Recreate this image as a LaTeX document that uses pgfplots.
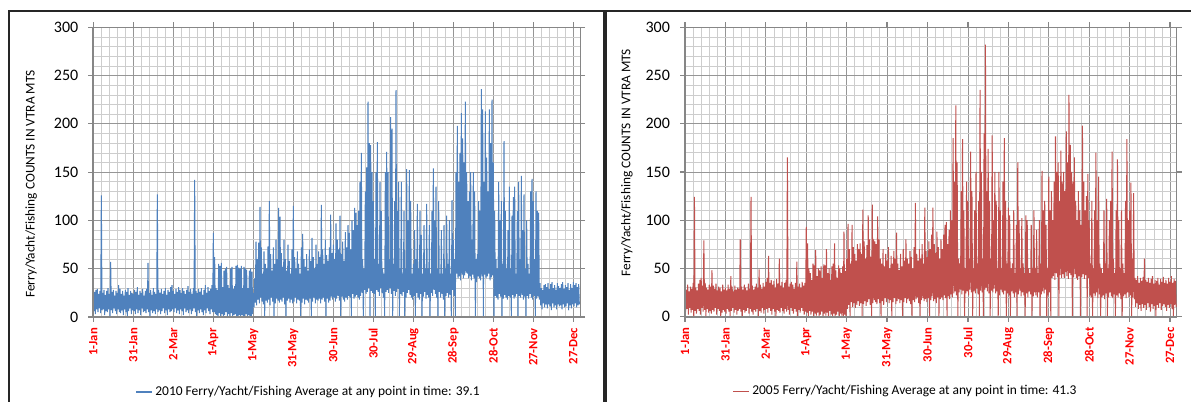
\documentclass[border=0pt]{standalone}
\usepackage{fontspec}
\setmainfont{Carlito}
\usepackage{pgfplots}
\pgfplotsset{compat=1.18}
\usepackage{pgfplotstable}

\definecolor{xlblue}{RGB}{79,129,189}
\definecolor{xlred}{RGB}{192,80,77}
\definecolor{majgrid}{RGB}{150,150,150}
\definecolor{mingrid}{RGB}{205,205,205}
\definecolor{axgray}{RGB}{134,134,134}

% daily max / min pairs (hi, lo, hi, lo, ...), one pair per day from 1-Jan
\pgfplotstableread[row sep=\\]{v\\
22\\6\\26\\3\\28\\8\\29\\5\\24\\9\\27\\4\\126\\7\\25\\8\\28\\2\\23\\6\\
27\\5\\30\\8\\24\\0\\57\\7\\26\\4\\28\\9\\22\\6\\27\\3\\25\\8\\33\\5\\
29\\4\\24\\7\\27\\2\\22\\8\\28\\5\\26\\0\\30\\6\\23\\9\\27\\3\\25\\7\\
24\\6\\28\\3\\26\\8\\31\\4\\23\\7\\27\\2\\25\\9\\29\\5\\22\\6\\27\\4\\
29\\8\\56\\5\\25\\0\\28\\7\\23\\4\\30\\6\\26\\3\\24\\8\\127\\5\\28\\7\\
25\\3\\29\\6\\24\\9\\27\\4\\30\\7\\23\\2\\28\\8\\26\\5\\31\\6\\33\\8\\
27\\5\\24\\9\\29\\4\\26\\7\\31\\3\\28\\8\\25\\6\\30\\2\\27\\9\\24\\5\\
28\\7\\32\\4\\26\\8\\29\\3\\24\\6\\30\\9\\142\\5\\27\\0\\25\\7\\29\\4\\
26\\8\\30\\5\\23\\2\\28\\7\\33\\4\\25\\9\\31\\6\\27\\3\\29\\8\\33\\5\\
87\\5\\62\\3\\30\\2\\28\\0\\55\\4\\53\\1\\56\\3\\31\\0\\48\\2\\50\\5\\
52\\0\\33\\3\\30\\1\\50\\4\\52\\0\\29\\2\\32\\3\\53\\0\\54\\1\\51\\2\\
50\\0\\53\\2\\30\\1\\52\\0\\50\\3\\49\\0\\30\\2\\48\\1\\50\\0\\47\\3\\
25\\10\\40\\15\\78\\12\\60\\18\\77\\14\\114\\20\\72\\16\\45\\13\\68\\0\\55\\17\\
50\\15\\73\\18\\120\\12\\65\\20\\48\\16\\72\\0\\55\\14\\80\\19\\60\\17\\113\\15\\
104\\18\\66\\16\\52\\20\\80\\13\\60\\0\\48\\17\\75\\19\\58\\15\\45\\18\\70\\14\\
115\\16\\62\\20\\50\\14\\68\\18\\55\\17\\45\\0\\72\\15\\86\\19\\60\\13\\52\\18\\
65\\17\\48\\15\\70\\19\\58\\0\\82\\16\\62\\20\\50\\14\\75\\18\\55\\17\\68\\19\\
62\\14\\116\\18\\70\\20\\55\\16\\80\\0\\64\\19\\58\\15\\72\\17\\106\\21\\66\\18\\
75\\20\\60\\16\\97\\19\\80\\22\\70\\17\\105\\0\\65\\21\\78\\18\\58\\16\\88\\20\\
72\\18\\95\\22\\87\\20\\70\\0\\100\\24\\90\\19\\113\\21\\108\\23\\95\\20\\110\\18\\
140\\22\\170\\25\\60\\0\\50\\28\\130\\24\\155\\26\\223\\30\\180\\0\\178\\27\\150\\25\\
120\\24\\60\\0\\150\\28\\181\\26\\55\\22\\140\\30\\110\\25\\50\\20\\45\\0\\150\\26\\
171\\28\\150\\25\\60\\30\\207\\24\\195\\0\\55\\27\\120\\22\\235\\26\\110\\29\\140\\0\\
50\\24\\140\\22\\45\\26\\110\\0\\50\\20\\153\\25\\100\\28\\152\\23\\120\\20\\45\\18\\
55\\22\\90\\0\\60\\25\\117\\20\\50\\18\\110\\24\\85\\0\\45\\21\\95\\26\\50\\19\\
117\\23\\50\\20\\95\\0\\45\\25\\110\\22\\154\\28\\100\\24\\135\\20\\50\\0\\120\\26\\
45\\20\\90\\24\\45\\18\\95\\0\\50\\22\\105\\25\\55\\20\\100\\23\\45\\0\\121\\28\\
80\\22\\60\\0\\150\\45\\198\\40\\140\\42\\170\\38\\211\\44\\185\\40\\160\\43\\223\\46\\
150\\45\\120\\40\\130\\42\\150\\38\\80\\44\\150\\40\\130\\0\\60\\36\\65\\42\\120\\40\\
110\\38\\236\\42\\215\\0\\140\\44\\213\\40\\165\\42\\130\\45\\215\\38\\180\\41\\225\\43\\
160\\0\\110\\22\\60\\20\\50\\18\\140\\24\\100\\21\\120\\0\\55\\19\\182\\23\\110\\20\\
50\\18\\90\\22\\135\\20\\50\\0\\105\\23\\124\\19\\135\\21\\45\\24\\110\\0\\140\\22\\
60\\20\\146\\23\\90\\18\\127\\21\\50\\0\\100\\22\\55\\19\\45\\24\\130\\20\\143\\18\\
120\\22\\60\\0\\130\\19\\110\\21\\108\\18\\35\\12\\30\\8\\28\\14\\33\\10\\34\\13\\
31\\9\\35\\13\\29\\11\\34\\7\\36\\14\\30\\10\\33\\12\\28\\8\\35\\13\\32\\11\\
30\\12\\34\\8\\36\\13\\29\\10\\33\\11\\31\\14\\35\\7\\28\\12\\34\\9\\30\\13\\
36\\11\\33\\14\\35\\10\\31\\12\\34\\13\\
}\tenyear

\pgfplotstableread[row sep=\\]{v\\
30\\5\\28\\8\\33\\2\\26\\9\\31\\4\\29\\7\\35\\0\\124\\6\\30\\3\\27\\8\\
34\\6\\38\\2\\40\\9\\32\\5\\79\\7\\35\\0\\30\\8\\28\\4\\33\\6\\31\\3\\
48\\7\\32\\5\\29\\9\\34\\2\\27\\8\\31\\6\\30\\0\\26\\4\\33\\7\\28\\5\\
30\\3\\27\\8\\33\\5\\29\\0\\42\\6\\31\\9\\26\\4\\32\\7\\28\\2\\30\\6\\
29\\8\\80\\5\\31\\0\\28\\7\\33\\4\\30\\6\\27\\9\\34\\3\\29\\8\\124\\5\\
32\\2\\28\\7\\31\\5\\34\\8\\30\\0\\49\\6\\33\\4\\29\\9\\35\\3\\31\\7\\
36\\8\\40\\4\\63\\9\\35\\6\\38\\2\\33\\8\\37\\5\\30\\0\\39\\7\\34\\6\\
60\\4\\32\\9\\36\\6\\30\\3\\35\\8\\38\\5\\165\\7\\31\\2\\34\\9\\36\\6\\
33\\3\\29\\8\\35\\5\\57\\0\\31\\7\\34\\4\\30\\9\\36\\6\\32\\2\\35\\5\\
93\\4\\76\\0\\50\\6\\45\\2\\38\\5\\55\\0\\53\\3\\69\\1\\42\\4\\50\\0\\
48\\2\\52\\5\\40\\0\\54\\3\\53\\1\\70\\4\\45\\0\\50\\6\\38\\2\\52\\0\\
55\\3\\76\\0\\48\\2\\40\\5\\53\\0\\50\\3\\45\\1\\52\\0\\88\\2\\47\\0\\
60\\8\\96\\12\\70\\0\\55\\15\\95\\10\\72\\14\\65\\9\\58\\12\\75\\16\\70\\11\\
76\\14\\65\\0\\111\\13\\78\\16\\60\\11\\74\\15\\105\\18\\80\\12\\62\\0\\116\\14\\
80\\17\\78\\15\\75\\13\\104\\18\\80\\14\\60\\0\\55\\16\\70\\12\\52\\19\\65\\15\\
58\\18\\72\\14\\50\\17\\63\\0\\55\\15\\68\\19\\60\\13\\87\\16\\55\\18\\48\\14\\
65\\17\\52\\0\\70\\15\\58\\19\\80\\14\\60\\18\\55\\16\\68\\13\\62\\0\\50\\17\\
72\\15\\118\\18\\65\\20\\58\\14\\70\\0\\60\\17\\75\\19\\55\\16\\113\\18\\68\\15\\
62\\19\\78\\0\\70\\17\\85\\21\\113\\16\\75\\18\\66\\14\\88\\20\\72\\0\\60\\18\\
80\\20\\70\\17\\85\\22\\95\\19\\98\\0\\75\\21\\90\\18\\110\\23\\100\\20\\185\\24\\
140\\26\\219\\22\\160\\0\\60\\25\\55\\28\\130\\23\\184\\27\\110\\0\\50\\24\\140\\26\\
120\\22\\60\\28\\171\\25\\130\\0\\50\\26\\110\\24\\150\\29\\55\\23\\120\\0\\235\\27\\
150\\25\\60\\0\\190\\28\\282\\30\\130\\26\\174\\24\\120\\0\\60\\27\\188\\25\\100\\29\\
150\\24\\120\\26\\50\\0\\150\\22\\110\\28\\50\\25\\140\\23\\185\\27\\120\\0\\55\\24\\
113\\22\\105\\0\\50\\26\\55\\24\\110\\20\\45\\25\\95\\0\\160\\23\\100\\27\\50\\21\\
102\\25\\55\\22\\45\\0\\105\\24\\100\\20\\50\\26\\45\\23\\95\\0\\50\\21\\110\\25\\
50\\22\\90\\20\\45\\25\\100\\0\\55\\23\\151\\26\\110\\24\\120\\28\\95\\0\\50\\22\\
145\\25\\110\\0\\130\\40\\100\\42\\140\\38\\187\\45\\150\\41\\160\\0\\120\\43\\172\\40\\
140\\44\\150\\40\\130\\46\\192\\42\\160\\39\\230\\45\\178\\43\\150\\0\\140\\41\\165\\44\\
120\\40\\100\\38\\130\\42\\110\\0\\95\\41\\198\\44\\140\\39\\110\\43\\125\\0\\148\\40\\
100\\22\\55\\20\\120\\0\\50\\24\\110\\21\\170\\25\\100\\19\\145\\23\\55\\0\\50\\20\\
45\\22\\110\\18\\55\\24\\122\\0\\50\\20\\100\\25\\120\\21\\171\\19\\60\\23\\45\\0\\
110\\22\\163\\20\\100\\24\\50\\18\\110\\0\\55\\21\\45\\23\\120\\19\\184\\25\\100\\20\\
110\\22\\139\\0\\60\\20\\128\\18\\40\\10\\38\\14\\42\\8\\35\\12\\40\\6\\37\\13\\
41\\9\\60\\12\\38\\7\\36\\14\\40\\10\\35\\5\\39\\13\\42\\8\\34\\11\\38\\0\\
37\\12\\40\\9\\33\\14\\39\\7\\36\\11\\41\\13\\35\\10\\38\\6\\34\\12\\40\\9\\
36\\13\\42\\8\\35\\0\\39\\12\\37\\10\\
}\fiveyear

\pgfplotsset{
  panel/.style={
    scale only axis,
    xmin=0, xmax=365, ymin=0, ymax=300,
    xtick={0,30,...,360},
    xticklabels={1-Jan,31-Jan,2-Mar,1-Apr,1-May,31-May,30-Jun,30-Jul,29-Aug,28-Sep,28-Oct,27-Nov,27-Dec},
    ytick={0,50,...,300},
    minor x tick num=4, minor y tick num=4,
    grid=both,
    major grid style={draw=majgrid, line width=0.6pt},
    minor grid style={draw=mingrid, line width=0.45pt},
    tick align=outside, major tick length=3.75pt, minor tick length=0pt,
    every tick/.style={draw=axgray, line width=0.9pt},
    axis line style={draw=axgray, line width=0.6pt},
    xticklabel style={yshift=-1pt, rotate=90, anchor=east, text=red,
      font=\bfseries\fontsize{9.5}{10}\selectfont},
    yticklabel style={xshift=-4pt, font=\fontsize{12}{12}\selectfont},
    ylabel={Ferry/Yacht/Fishing COUNTS IN VTRA MTS},
    /pgf/number format/assume math mode=true,
    legend style={draw=none, fill=none, anchor=center,
      font=\fontsize{10.1}{12}\selectfont},
    legend image code/.code={\draw[#1, line width=0.9pt] (0pt,0pt) -- (12pt,0pt);},
  }
}

\begin{document}
\begin{tikzpicture}[x=0.75pt, y=0.75pt]
\useasboundingbox (0,0) rectangle (1191,402);

% chart frames
\draw[black!85, line width=1.6pt] (9,0) -- (9,391) -- (1191,391);
\draw[black!85, line width=3pt] (605,0) -- (605,391);

\begin{axis}[panel, name=L, at={(70pt,63.75pt)}, anchor=south west,
  width=365pt, height=217.3pt,
  ylabel style={at={(axis description cs:-0.128,0.459)}, anchor=center,
    font=\fontsize{10}{12}\selectfont},
  legend style={at={(0.443,-0.259)}}]
\addplot[xlblue, line width=0.75pt] table[x expr=\coordindex/2, y=v] {\tenyear};
\addlegendentry{2010 Ferry/Yacht/Fishing Average at any point in time: 39.1}
\end{axis}
\draw[axgray, line width=1.5pt] (L.north west) -- (L.south west) -- (L.south east);

\begin{axis}[panel, name=R, at={(513.75pt,64.1pt)}, anchor=south west,
  width=368.8pt, height=216.9pt,
  ylabel style={at={(axis description cs:-0.118,0.532)}, anchor=center,
    font=\fontsize{10}{12}\selectfont},
  legend style={at={(0.449,-0.258)}}]
\addplot[xlred, line width=0.75pt] table[x expr=\coordindex/2, y=v] {\fiveyear};
\addlegendentry{2005 Ferry/Yacht/Fishing Average at any point in time: 41.3}
\end{axis}
\draw[axgray, line width=1.5pt] (R.north west) -- (R.south west) -- (R.south east);
\end{tikzpicture}
\end{document}
